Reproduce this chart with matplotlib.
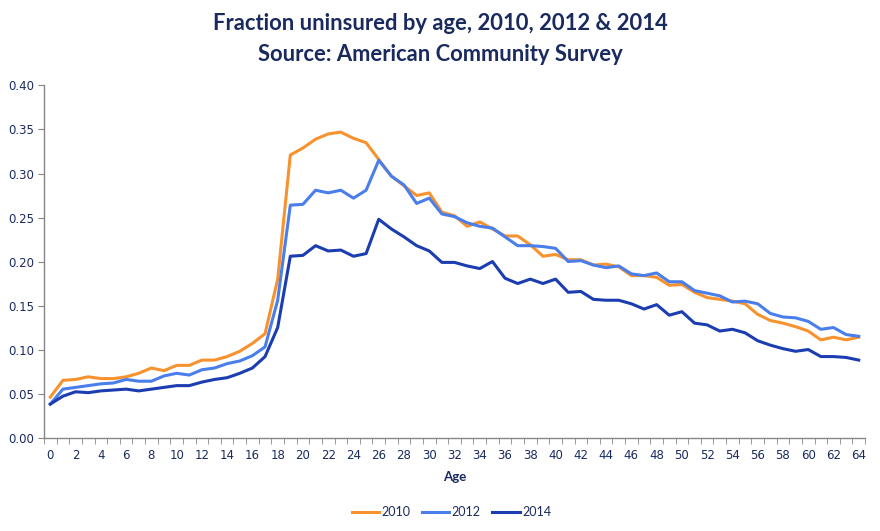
import matplotlib
matplotlib.use("Agg")
import matplotlib.pyplot as plt
import numpy as np
from matplotlib.ticker import FixedLocator, MultipleLocator

# --- data ---
ages = list(range(0, 65))

uninsured_2010 = [
    0.046, 0.065, 0.066, 0.069, 0.067, 0.067, 0.069, 0.073, 0.079, 0.076,
    0.082, 0.082, 0.088, 0.088, 0.092, 0.098, 0.107, 0.118, 0.180, 0.321,
    0.329, 0.339, 0.345, 0.347, 0.340, 0.335, 0.316, 0.297, 0.286, 0.275,
    0.278, 0.256, 0.252, 0.240, 0.245, 0.237, 0.229, 0.229, 0.219, 0.206,
    0.208, 0.202, 0.202, 0.196, 0.197, 0.194, 0.184, 0.184, 0.182, 0.173,
    0.174, 0.165, 0.159, 0.157, 0.155, 0.152, 0.140, 0.133, 0.130, 0.126,
    0.121, 0.111, 0.114, 0.111, 0.114,
]
uninsured_2012 = [
    0.038, 0.055, 0.057, 0.059, 0.061, 0.062, 0.066, 0.064, 0.064, 0.070,
    0.073, 0.071, 0.077, 0.079, 0.084, 0.087, 0.093, 0.103, 0.156, 0.264,
    0.265, 0.281, 0.278, 0.281, 0.272, 0.281, 0.315, 0.297, 0.287, 0.266,
    0.272, 0.254, 0.251, 0.244, 0.240, 0.238, 0.228, 0.218, 0.218, 0.217,
    0.215, 0.200, 0.201, 0.196, 0.193, 0.195, 0.186, 0.184, 0.187, 0.177,
    0.177, 0.167, 0.164, 0.161, 0.154, 0.155, 0.152, 0.141, 0.137, 0.136,
    0.132, 0.123, 0.125, 0.117, 0.115,
]
uninsured_2014 = [
    0.038, 0.047, 0.052, 0.051, 0.053, 0.054, 0.055, 0.053, 0.055, 0.057,
    0.059, 0.059, 0.063, 0.066, 0.068, 0.073, 0.079, 0.092, 0.125, 0.206,
    0.207, 0.218, 0.212, 0.213, 0.206, 0.209, 0.248, 0.237, 0.228, 0.218,
    0.212, 0.199, 0.199, 0.195, 0.192, 0.200, 0.181, 0.175, 0.180, 0.175,
    0.180, 0.165, 0.166, 0.157, 0.156, 0.156, 0.152, 0.146, 0.151, 0.139,
    0.143, 0.130, 0.128, 0.121, 0.123, 0.119, 0.110, 0.105, 0.101, 0.098,
    0.100, 0.092, 0.092, 0.091, 0.088,
]

series = [
    ("2010", uninsured_2010, "#F7922F"),
    ("2012", uninsured_2012, "#4A7EEB"),
    ("2014", uninsured_2014, "#1B3DB0"),
]

title_lines = ["Fraction uninsured by age, 2010, 2012 & 2014",
               "Source: American Community Survey"]
navy = "#1A2A5E"
axis_grey = "#868686"
narrow = ["Lato", "DejaVu Sans"]

fig = plt.figure(figsize=(8.8, 5.31), dpi=100)
ax = fig.add_axes([0.05, 0.176, 0.933, 0.663])

for label, values, color in series:
    ax.plot(ages, values, color=color, lw=2.2, label=label)

ax.set_xlim(-0.5, 64.5)
ax.set_ylim(0, 0.40)

# category-style axis: ticks between ages, labels every 2 years
ax.xaxis.set_major_locator(FixedLocator(ages[::2]))
ax.xaxis.set_minor_locator(FixedLocator(np.arange(-0.5, 65, 1)))
ax.tick_params(axis="x", which="major", length=0, pad=8,
               labelsize=8.5, labelcolor=navy)
ax.tick_params(axis="x", which="minor", length=4, color=axis_grey,
               direction="out")
ax.set_xticklabels([str(a) for a in ages[::2]])

ax.yaxis.set_major_locator(MultipleLocator(0.05))
ax.yaxis.set_major_formatter(plt.FuncFormatter(lambda v, _: f"{v:.2f}"))
ax.tick_params(axis="y", length=4, color=axis_grey, labelsize=8.5,
               labelcolor=navy, pad=3)

for side in ("top", "right"):
    ax.spines[side].set_visible(False)
for side in ("left", "bottom"):
    ax.spines[side].set_color(axis_grey)
    ax.spines[side].set_linewidth(1.0)

ax.set_xlabel("Age", fontsize=9.5, fontweight="bold", color=navy,
              labelpad=7, family=narrow)

for text, ypos in zip(title_lines, (0.955, 0.897)):
    fig.text(0.5, ypos, text, ha="center", va="center", fontsize=15.8,
             fontweight="bold", color=navy, family=narrow)

fig.legend(loc="center", bbox_to_anchor=(0.513, 0.035), ncol=3,
           frameon=False, prop={"family": narrow, "size": 9},
           handlelength=2.2, handletextpad=0.2, columnspacing=0.9,
           labelcolor=navy)

fig.savefig("out.png", dpi=100)
